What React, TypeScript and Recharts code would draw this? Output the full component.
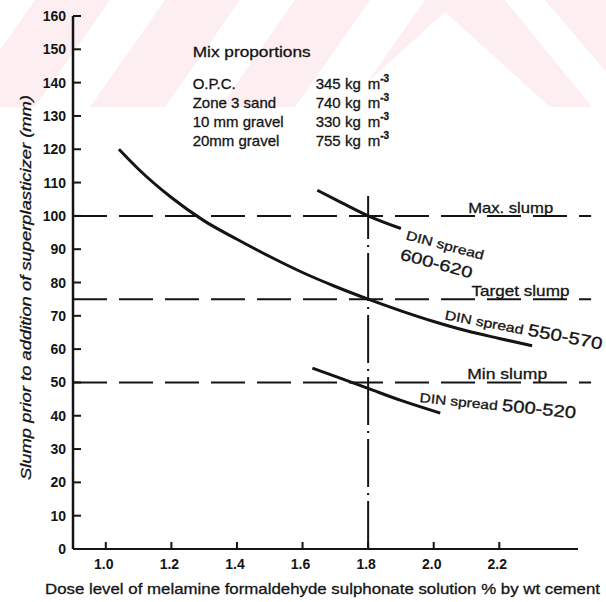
import React from 'react';
import { LineChart, Line, XAxis, YAxis, ReferenceLine, ReferenceDot } from 'recharts';

// curves: slump before dosing vs. dose of melamine formaldehyde sulphonate
const dose550 = [1.04, 1.1, 1.2, 1.3, 1.4, 1.5, 1.6, 1.7, 1.8, 1.9, 2.0, 2.1, 2.2, 2.3];
const slump550 = [120, 114, 105.5, 98.5, 93, 87.8, 83, 78.8, 75, 71.5, 68.3, 65.5, 63.2, 61];
const dose600 = [1.645, 1.72, 1.8, 1.9];
const slump600 = [107.7, 103.9, 100, 96.2];
const dose500 = [1.63, 1.7, 1.8, 1.9, 2.02];
const slump500 = [54.3, 51.8, 48.2, 44.6, 40.8];

const limitNames = ['Max. slump', 'Target slump', 'Min slump'];
const limitValues = [100, 75, 50];
const chosenDose = 1.8;

const mixItems = ['O.P.C.', 'Zone 3 sand', '10 mm gravel', '20mm gravel'];
const mixAmounts = [345, 740, 330, 755];

const xTicks = [1.0, 1.2, 1.4, 1.6, 1.8, 2.0, 2.2];
const yTicks = [0, 10, 20, 30, 40, 50, 60, 70, 80, 90, 100, 110, 120, 130, 140, 150, 160];

const FONT = '"Liberation Sans", Arial, sans-serif';
const INK = '#141414';

const zip = (xs: number[], ys: number[]) => xs.map((x, i) => ({ x, y: ys[i] }));

const YTick = ({ x, y, payload }: any) => (
    <g>
        {payload.value > 0 && (
            <line x1={x + 7} x2={x + 15} y1={y} y2={y} stroke={INK} strokeWidth={2} />
        )}
        <text x={x} y={y} dy={5} textAnchor="end" fontFamily={FONT} fontSize={14} fontWeight={700} fill={INK}>
            {payload.value}
        </text>
    </g>
);

const XTick = ({ x, y, payload }: any) => (
    <g>
        <line x1={x} x2={x} y1={y - 9} y2={y - 16} stroke={INK} strokeWidth={2} />
        <text x={x - 2} y={y} dy={11} textAnchor="middle" fontFamily={FONT} fontSize={14} fontWeight={700} fill={INK}>
            {payload.value.toFixed(1)}
        </text>
    </g>
);

const YTitle = ({ viewBox }: any) => {
    const cx = viewBox.x + 13;
    const cy = viewBox.y + viewBox.height / 2 + 5;
    return (
        <text x={cx} y={cy} transform={`rotate(-90 ${cx} ${cy})`} textAnchor="middle" dy={5}
              fontFamily={FONT} fontSize={15} fontStyle="italic" fill={INK} stroke={INK} strokeWidth={0.3}
              textLength={385} lengthAdjust="spacingAndGlyphs">
            Slump prior to addition of superplasticizer (mm)
        </text>
    );
};

const XTitle = ({ viewBox }: any) => (
    <text x={viewBox.x + viewBox.width / 2 - 3} y={viewBox.y + 45} textAnchor="middle"
          fontFamily={FONT} fontSize={15} fill={INK} stroke={INK} strokeWidth={0.3}
          textLength={555} lengthAdjust="spacingAndGlyphs">
        Dose level of melamine formaldehyde sulphonate solution % by wt cement
    </text>
);

// tilted note placed at a data point (baseline start)
const Note = ({ viewBox, tilt = 0, parts, length }: any) => {
    const { x, y } = viewBox;
    return (
        <text x={x} y={y} transform={`rotate(${tilt} ${x} ${y})`} fontFamily={FONT} fill={INK}
              stroke={INK} strokeWidth={0.3} textLength={length} lengthAdjust="spacingAndGlyphs">
            {parts.map((p: any, i: number) => (
                <tspan key={i} fontSize={p.size}>{p.text}</tspan>
            ))}
        </text>
    );
};

const MixBlock = ({ viewBox }: any) => {
    const { x, y } = viewBox;
    return (
        <g fontFamily={FONT} fill={INK} stroke={INK} strokeWidth={0.3}>
            <text x={x} y={y} fontSize={15} textLength={118} lengthAdjust="spacingAndGlyphs">Mix proportions</text>
            {mixItems.map((item, i) => (
                <g key={item}>
                    <text x={x} y={y + 32 + i * 19} fontSize={15}>{item}</text>
                    <text x={x + 123} y={y + 32 + i * 19} fontSize={15}>
                        {mixAmounts[i]} kg
                        <tspan dx={7}>m</tspan>
                        <tspan dy={-7} fontSize={10} fontWeight={700}>-3</tspan>
                    </text>
                </g>
            ))}
        </g>
    );
};

// faint stripe pattern across the top of the sheet
const Backdrop = () => (
    <svg width={606} height={602} style={{ position: 'absolute', left: 0, top: 0 }}>
        <rect x={0} y={0} width={606} height={107} fill="#fdeef1" />
        {[-95, 35, 165, 295].map(b => (
            <polygon key={b} points={`${b},107 ${b + 55},107 ${b + 130},0 ${b + 75},0`} fill="#fff" />
        ))}
        <polygon points="445,12 340,107 550,107" fill="#fff" />
        <polygon points="505,0 545,0 606,72 606,107 592,107" fill="#fff" />
    </svg>
);

const anchor = { r: 0, fill: 'none', stroke: 'none', ifOverflow: 'visible' as const };

export default function App() {
    return (
        <div style={{ position: 'absolute', left: 0, top: 0, width: 606, height: 602, background: '#fff' }}>
            <Backdrop />
            <div style={{ position: 'absolute', left: 0, top: 0 }}>
                <LineChart width={606} height={602} margin={{ top: 16, right: 28, bottom: 0, left: 13 }}>
                    <XAxis type="number" dataKey="x" domain={[0.9, 2.44]} ticks={xTicks} allowDataOverflow
                           height={53} tickSize={0} tickMargin={9} tickLine={false}
                           axisLine={{ stroke: INK, strokeWidth: 2 }} tick={<XTick />}
                           label={<XTitle />} />
                    <YAxis type="number" domain={[0, 160]} ticks={yTicks} allowDataOverflow
                           width={60} tickSize={0} tickMargin={7} tickLine={false}
                           axisLine={{ stroke: INK, strokeWidth: 2.5 }} tick={<YTick />}
                           label={<YTitle />} />

                    {limitValues.map(v => (
                        <ReferenceLine key={v} segment={[{ x: 0.9, y: v }, { x: 2.48, y: v }]} ifOverflow="visible"
                                       stroke={INK} strokeWidth={2} strokeDasharray="34 12" />
                    ))}
                    <ReferenceLine segment={[{ x: chosenDose, y: 0 }, { x: chosenDose, y: 106 }]} ifOverflow="visible"
                                   stroke={INK} strokeWidth={2} strokeDasharray="48 6 2 6" />

                    <Line data={zip(dose550, slump550)} dataKey="y" type="monotone" stroke={INK} strokeWidth={3}
                          dot={false} isAnimationActive={false} />
                    <Line data={zip(dose600, slump600)} dataKey="y" type="monotone" stroke={INK} strokeWidth={3}
                          dot={false} isAnimationActive={false} />
                    <Line data={zip(dose500, slump500)} dataKey="y" type="monotone" stroke={INK} strokeWidth={3}
                          dot={false} isAnimationActive={false} />

                    <ReferenceDot x={1.265} y={147.6} {...anchor} label={<MixBlock />} />

                    <ReferenceDot x={2.105} y={100.9} {...anchor}
                                  label={<Note parts={[{ text: limitNames[0], size: 15 }]} length={85} />} />
                    <ReferenceDot x={2.115} y={75.9} {...anchor}
                                  label={<Note parts={[{ text: limitNames[1], size: 15 }]} length={98} />} />
                    <ReferenceDot x={2.102} y={50.9} {...anchor}
                                  label={<Note parts={[{ text: limitNames[2], size: 15 }]} length={80} />} />

                    <ReferenceDot x={1.913} y={93} {...anchor}
                                  label={<Note tilt={15} parts={[{ text: 'DIN spread', size: 13 }]} length={80} />} />
                    <ReferenceDot x={1.895} y={87} {...anchor}
                                  label={<Note tilt={15} parts={[{ text: '600-620', size: 16 }]} length={74} />} />
                    <ReferenceDot x={2.032} y={69} {...anchor}
                                  label={<Note tilt={11} parts={[{ text: 'DIN spread ', size: 13 }, { text: '550-570', size: 17 }]} length={160} />} />
                    <ReferenceDot x={1.956} y={44.1} {...anchor}
                                  label={<Note tilt={6} parts={[{ text: 'DIN spread ', size: 13 }, { text: '500-520', size: 17 }]} length={157} />} />
                </LineChart>
            </div>
        </div>
    );
}
